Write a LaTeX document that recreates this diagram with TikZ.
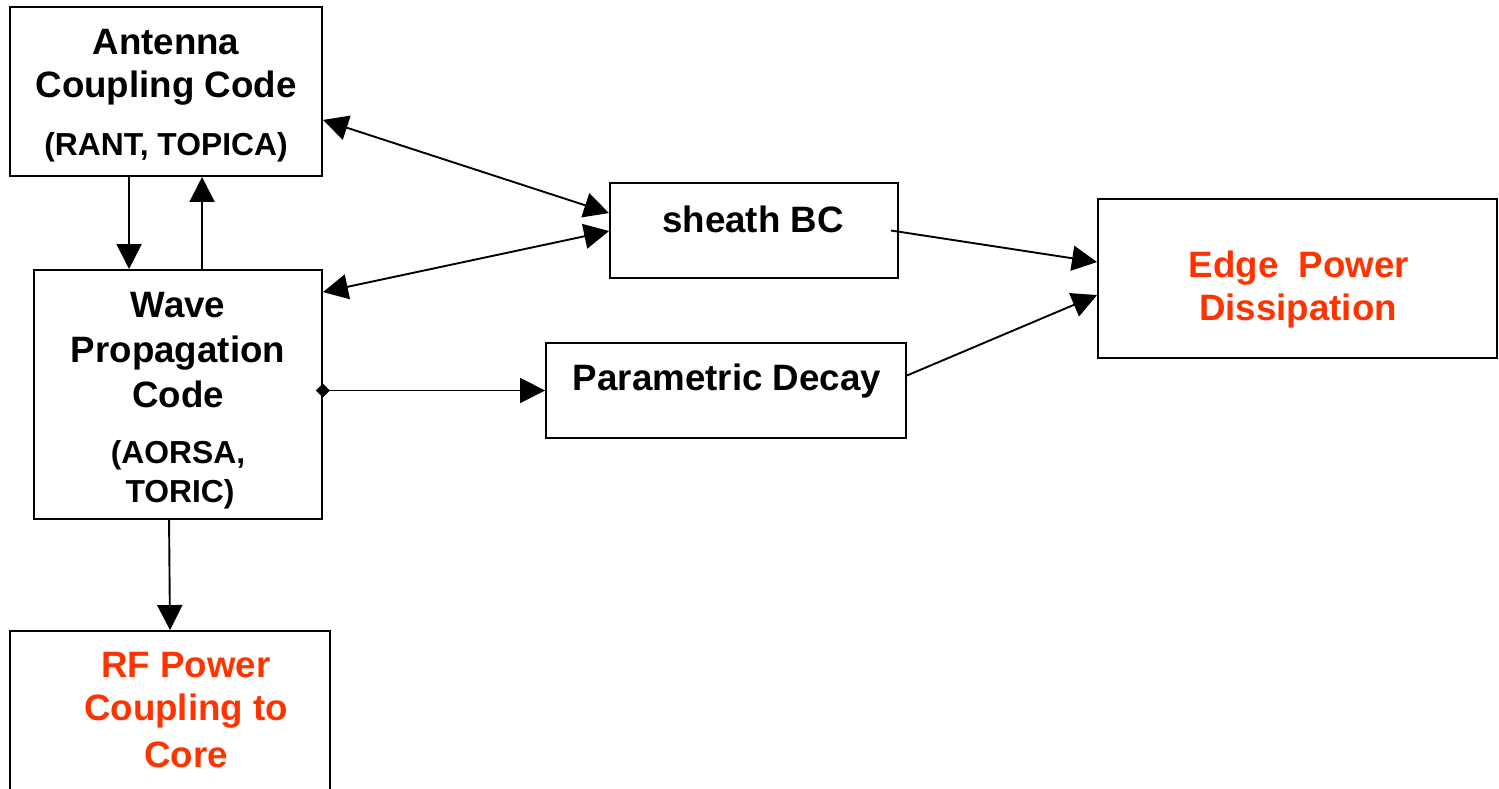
\documentclass[tikz,border=0pt]{standalone}
\usepackage{fontspec}
\setmainfont{Liberation Sans}
\usetikzlibrary{arrows.meta}
\definecolor{edgered}{RGB}{255,51,0}
\tikzset{
  box/.style={draw=black, line width=1.9pt, rectangle, inner sep=0pt, fill=white},
  big/.style={inner sep=0pt, anchor=base, font=\fontsize{36.7}{44}\selectfont\bfseries},
  small/.style={inner sep=0pt, anchor=base, font=\fontsize{31.8}{38}\selectfont\bfseries},
  redtxt/.style={big, text=edgered},
  conn/.style={line width=1.9pt, -{Triangle[length=25pt,width=25pt]}},
  dconn/.style={line width=1.9pt, {Triangle[length=25pt,width=25pt]}-{Triangle[length=25pt,width=25pt]}},
}
\begin{document}
\begin{tikzpicture}[x=1pt,y=-1pt]
\useasboundingbox (0,0) rectangle (1499,789);
% boxes
\node[box, minimum width=312pt, minimum height=169pt] (ant) at (166,91.5) {};
\node[box, minimum width=288pt, minimum height=249pt] (wave) at (178,394.5) {};
\node[box, minimum width=320pt, minimum height=180pt] (rf) at (170,721) {};
\node[box, minimum width=288pt, minimum height=95pt] (sheath) at (754,230.5) {};
\node[box, minimum width=360pt, minimum height=95pt] (param) at (726,390.5) {};
\node[box, minimum width=399pt, minimum height=159pt] (edge) at (1297.5,278.5) {};
% texts
\node[big] (antA) at (166,55) {Antenna};
\node[big] (antB) at (166,98) {Coupling Code};
\node[small] (antC) at (166,155) {(RANT, TOPICA)};
\node[big] (waveA) at (178,317) {Wave};
\node[big] (waveB) at (178,362) {Propagation};
\node[big] (waveC) at (178,407) {Code};
\node[small] (waveD) at (178,463) {(AORSA,};
\node[small] (waveE) at (180,502) {TORIC)};
\node[big] (sheathT) at (753,232) {sheath BC};
\node[big] (paramT) at (727,390) {Parametric Decay};
\node[redtxt] (edgeA) at (1299,277) {Edge\ \ Power};
\node[redtxt] (edgeB) at (1298,320) {Dissipation};
\node[redtxt] (rfA) at (186,677) {RF Power};
\node[redtxt] (rfB) at (186,720) {Coupling to};
\node[redtxt] (rfC) at (186,767) {Core};
% connectors
\draw[conn] ([xshift=120pt]ant.south west) -- ([xshift=96pt]wave.north west);
\draw[conn] ([xshift=169pt]wave.north west) -- ([xshift=193pt]ant.south west);
\draw[dconn] ([yshift=57pt]ant.south east) -- ([yshift=-31pt]sheath.north west);
\draw[dconn] ([yshift=-23pt]wave.north east) -- ([yshift=-49pt]sheath.north west);
\coordinate (dstart) at (wave.east |- param.west);
\draw[conn] (dstart) -- (param.west);
\fill (dstart) +(-7,0) -- +(0,-7) -- +(7,0) -- +(0,7) -- cycle;
\draw[conn] ([xshift=136pt]wave.south west) -- (rf.north);
\draw[conn] ([xshift=-8pt]sheath.east) -- ([yshift=-64pt]edge.north west);
\draw[conn] ([yshift=15pt]param.east) -- ([yshift=-97pt]edge.north west);
\end{tikzpicture}
\end{document}
